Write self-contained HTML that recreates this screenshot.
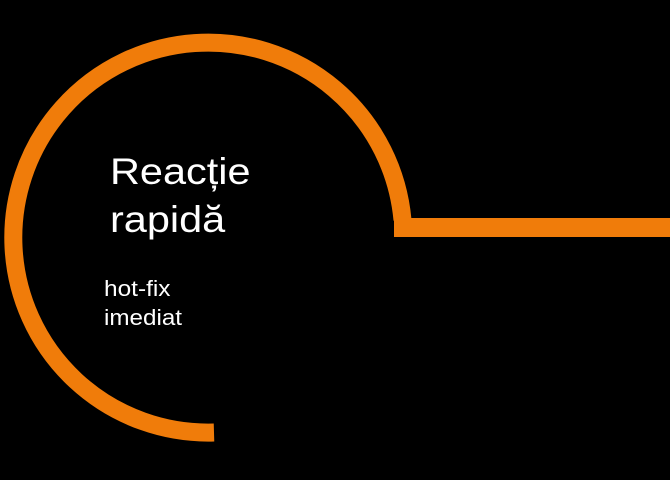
<!DOCTYPE html>
<html><head><meta charset="utf-8"><style>
html,body{margin:0;padding:0;background:#000;}
body{width:670px;height:480px;overflow:hidden;position:relative;font-family:"Liberation Sans",sans-serif;color:#fff;}
svg{position:absolute;left:0;top:0;}
.t{position:absolute;white-space:nowrap;line-height:1;transform-origin:0 0;}
</style></head><body>
<svg width="670" height="480">
<path d="M402.5,220 A195 195 0 1 0 214,432.5" fill="none" stroke="#f07c0a" stroke-width="18"/>
<rect x="394" y="218" width="276" height="19" fill="#f07c0a"/>
</svg>
<div class="t" style="left:110px;top:153px;font-size:37px;transform:scaleX(1.12);">Reacție</div>
<div class="t" style="left:110px;top:201px;font-size:37px;transform:scaleX(1.12);">rapidă</div>
<div class="t" style="left:104px;top:278px;font-size:22px;transform:scaleX(1.11);">hot-fix</div>
<div class="t" style="left:104px;top:307px;font-size:22px;transform:scaleX(1.1);">imediat</div>
</body></html>
